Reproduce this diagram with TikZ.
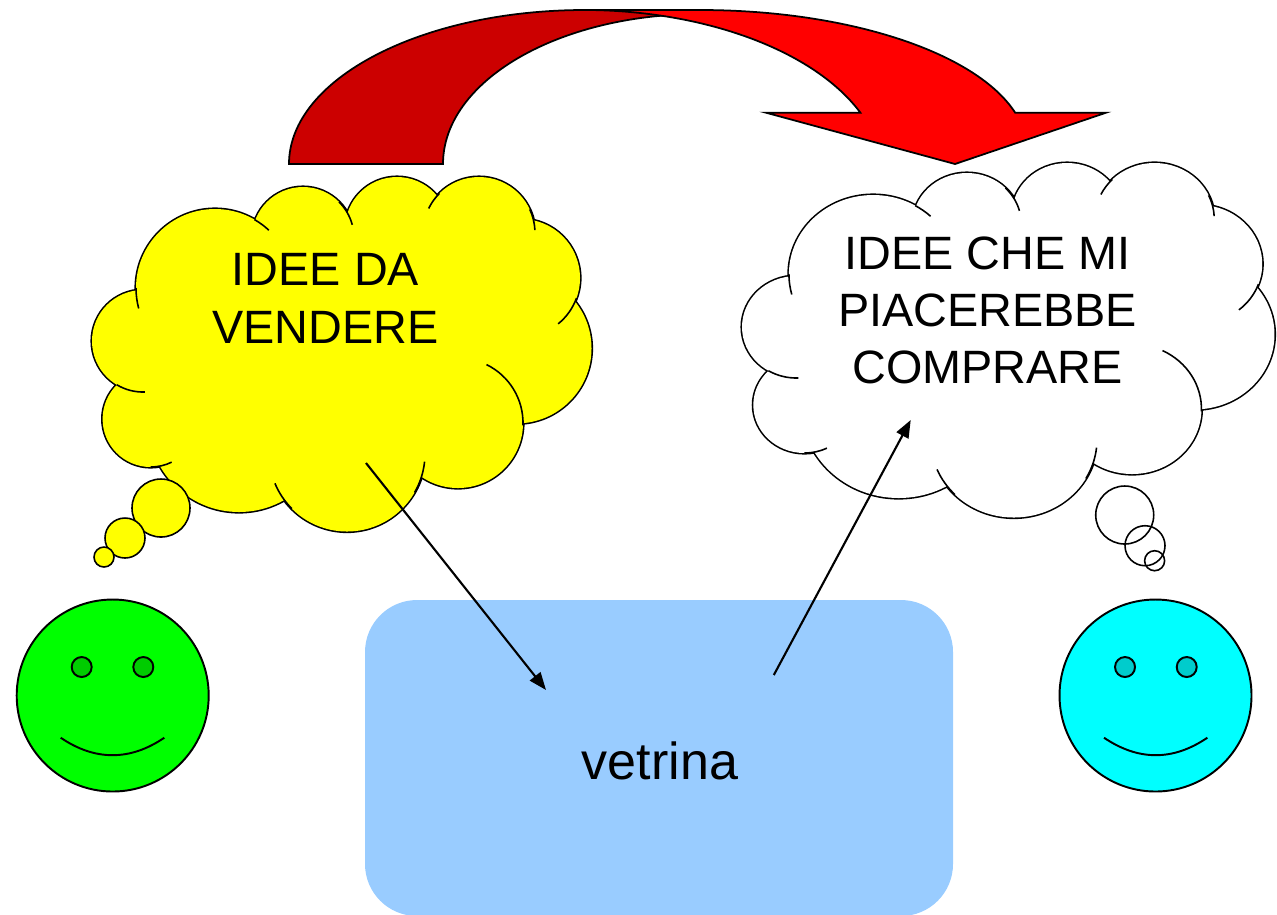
\documentclass[tikz,border=0pt]{standalone}
\usepackage{fontspec}
\setmainfont{Liberation Sans}
\usetikzlibrary{positioning}
\usetikzlibrary{arrows.meta}

\definecolor{giallo}{HTML}{FFFF00}
\definecolor{rossoscuro}{HTML}{CC0000}
\definecolor{rosso}{HTML}{FF0000}
\definecolor{verde}{HTML}{00FF00}
\definecolor{verdescuro}{HTML}{00CC00}
\definecolor{ciano}{HTML}{00FFFF}
\definecolor{cianoscuro}{HTML}{00CCCC}
\definecolor{vetro}{HTML}{99CCFF}

% lobi della nuvola: centro x / centro y / raggio
\def\lobi{123/111/79,211/61/51,305/52/52,387/56/56,429/101/59,424.5/171.4/75,366/246/65,255/276.5/78,147/244/91,58.6/242/48,51/164/51}
% pezzi interni: centro x / centro y / raggio / angolo iniziale / angolo finale
\def\pezzi{123/111/79/165/180,123/111/79/300/313,211/61/51/315/345,387/56/56/206/225,387/56/56/335/357,429/101/59/20/51,366/246/65/296/362,255/276.5/78/6/30,255/276.5/78/135/157.5,58.6/242/48/64/90,51/164/51/88/121}

\newcommand{\nuvola}[1]{%
  \draw[line width=0.9pt] \foreach \cx/\cy/\r in \lobi {(\cx,\cy) circle (\r)};
  \fill[#1] \foreach \cx/\cy/\r in \lobi {(\cx,\cy) circle (\r)};
  \fill[#1] (123,111) -- (211,61) -- (305,52) -- (387,56) -- (429,101) -- (424.5,171.4)
    -- (366,246) -- (255,276.5) -- (147,244) -- (58.6,242) -- (51,164) -- cycle;
  \foreach \cx/\cy/\r/\ai/\af in \pezzi
    \draw[line width=0.45pt] (\cx,\cy) ++(\ai:\r) arc[start angle=\ai, end angle=\af, radius=\r];
}

\tikzset{
  testo/.style={font=\fontsize{13.3}{16.3}\selectfont, align=center, inner sep=0pt},
  freccia/.style={line width=0.6pt, -{Triangle[length=5pt,width=3.8pt]}},
  faccia/.style={draw=black, line width=0.55pt},
}

\begin{document}
\begin{tikzpicture}[x=0.01cm, y=-0.01cm]
\useasboundingbox (0,0) rectangle (1277,914);

% freccia curva in alto
\filldraw[fill=rossoscuro, draw=black, line width=0.5pt] (289,164)
  arc[start angle=180, end angle=270, x radius=296, y radius=154] -- (700,10) -- (700,14)
  arc[start angle=270, end angle=180, x radius=257, y radius=150] -- cycle;
\filldraw[fill=rosso, draw=black, line width=0.5pt] (583,10) -- (700,10)
  arc[start angle=270, end angle=344.6, x radius=327, y radius=140]
  -- (1106,112.7) -- (955,164) -- (766,112.7) -- (860.4,112.7)
  arc[start angle=337.6, end angle=270, x radius=300, y radius=166] -- cycle;

% nuvole
\begin{scope}[shift={(92,177)}]
  \nuvola{giallo}
\end{scope}
\begin{scope}[shift={(742,163)}, xscale=1.066]
  \nuvola{white}
\end{scope}

% bolle
\filldraw[fill=giallo, line width=0.45pt] (161,508) circle (29);
\filldraw[fill=giallo, line width=0.45pt] (125,538) circle (20);
\filldraw[fill=giallo, line width=0.45pt] (104,557) circle (10);
\draw[line width=0.45pt] (1124.7,515) circle (29);
\draw[line width=0.45pt] (1145,545.7) circle (20);
\draw[line width=0.45pt] (1154.6,560.7) circle (10);

% facce
\filldraw[faccia, fill=verde] (112.7,695.5) circle (96);
\filldraw[faccia, fill=verdescuro] (81.7,667) circle (10);
\filldraw[faccia, fill=verdescuro] (143.3,667) circle (10);
\draw[faccia] (60.7,737.7) .. controls (95,761) and (130,761) .. (164.3,737.7);

\filldraw[faccia, fill=ciano] (1155.5,695.5) circle (96);
\filldraw[faccia, fill=cianoscuro] (1125,667) circle (10);
\filldraw[faccia, fill=cianoscuro] (1186.7,667) circle (10);
\draw[faccia] (1104,737.7) .. controls (1138.5,761) and (1173,761) .. (1207.3,737.7);

% vetrina
\fill[vetro, rounded corners=0.52cm] (365,600) rectangle (953,916);

% testi
\node[testo] (vendere) at (325.5,298.4) {IDEE DA\\VENDERE};
\node[testo] (comprare) at (987.5,310.5) {IDEE CHE MI\\PIACEREBBE\\COMPRARE};
\node[anchor=base, inner sep=0pt, font=\fontsize{14.8}{17}\selectfont] (vetrina) at (660,779) {vetrina};

% frecce
\coordinate (dagiallo) at (366,463);
\coordinate (invetrina) at (546,690);
\coordinate (davetrina) at (773.8,675);
\coordinate (abianca) at (910.7,420);
\draw[freccia] (dagiallo) -- (invetrina);
\draw[freccia] (davetrina) -- (abianca);
\end{tikzpicture}
\end{document}
